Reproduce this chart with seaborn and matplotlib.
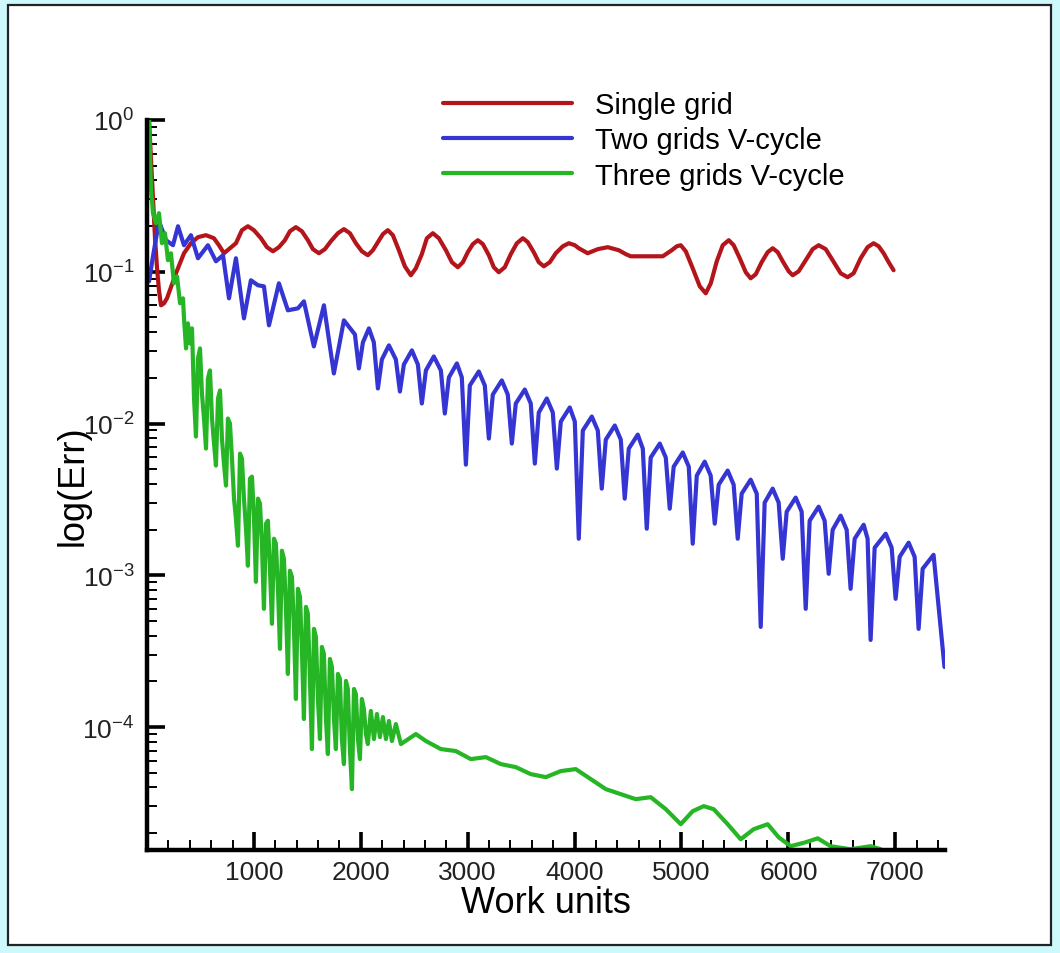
import numpy as np
import pandas as pd
import seaborn as sns
import matplotlib
matplotlib.use("Agg")
import matplotlib.pyplot as plt
from matplotlib.patches import Rectangle
from matplotlib.lines import Line2D
from matplotlib.ticker import LogLocator, FixedLocator, MultipleLocator, NullFormatter, FixedFormatter

# ---- convergence histories: work units vs log10 of the error ----
single_x = [19, 37, 56, 75, 94, 112, 131, 159, 187, 271, 346, 411, 477, 552, 626, 673, 720, 776,
            832, 888, 944, 1000, 1066, 1122, 1178, 1234, 1290, 1337, 1393, 1449, 1505, 1552, 1608,
            1664, 1720, 1786, 1842, 1898, 1954, 2010, 2066, 2113, 2160, 2207, 2253, 2300, 2356,
            2412, 2468, 2515, 2571, 2618, 2674, 2730, 2796, 2852, 2908, 2955, 3001, 3048, 3095,
            3142, 3198, 3244, 3291, 3347, 3403, 3460, 3516, 3562, 3618, 3665, 3712, 3768, 3824,
            3890, 3946, 4002, 4039, 4123, 4217, 4310, 4413, 4479, 4525, 4825, 4909, 4956, 4993,
            5040, 5105, 5171, 5227, 5274, 5330, 5386, 5442, 5488, 5545, 5601, 5647, 5694, 5750,
            5806, 5853, 5900, 5947, 6003, 6040, 6096, 6162, 6227, 6283, 6349, 6414, 6489, 6554,
            6610, 6676, 6741, 6797, 6844, 6891, 6938, 6984]
single_log = [0.0, -0.251, -0.515, -0.779, -0.977, -1.122, -1.221, -1.208, -1.175, -1.010, -0.878,
              -0.812, -0.772, -0.759, -0.779, -0.825, -0.878, -0.845, -0.812, -0.726, -0.700,
              -0.726, -0.779, -0.838, -0.865, -0.838, -0.792, -0.733, -0.706, -0.733, -0.792,
              -0.851, -0.878, -0.851, -0.799, -0.746, -0.719, -0.746, -0.812, -0.865, -0.891,
              -0.858, -0.805, -0.752, -0.726, -0.759, -0.858, -0.964, -1.023, -0.977, -0.884,
              -0.779, -0.746, -0.779, -0.858, -0.937, -0.970, -0.937, -0.871, -0.818, -0.792,
              -0.818, -0.891, -0.970, -1.003, -0.970, -0.884, -0.812, -0.779, -0.805, -0.871,
              -0.937, -0.964, -0.937, -0.878, -0.832, -0.812, -0.825, -0.845, -0.878, -0.851,
              -0.838, -0.858, -0.884, -0.898, -0.898, -0.858, -0.832, -0.825, -0.865, -0.977,
              -1.096, -1.142, -1.076, -0.931, -0.825, -0.792, -0.825, -0.911, -1.003, -1.043,
              -1.017, -0.937, -0.871, -0.845, -0.871, -0.931, -0.997, -1.023, -0.997, -0.924,
              -0.851, -0.825, -0.851, -0.924, -1.010, -1.036, -1.010, -0.911, -0.838, -0.812,
              -0.832, -0.878, -0.937, -0.990]

two_x = [19, 56, 112, 178, 243, 290, 346, 411, 477, 570, 645, 711, 767, 832, 907, 972, 1038, 1094,
         1141, 1234, 1318, 1412, 1468, 1561, 1655, 1748, 1842,
         1945, 1982, 2020, 2076, 2122, 2160, 2197, 2263, 2328, 2366, 2403, 2478,
         2534, 2571, 2609, 2683, 2749, 2786, 2824, 2899, 2945, 2983, 3020, 3104,
         3160, 3198, 3235, 3319, 3375, 3413, 3450, 3534, 3590, 3628, 3665, 3740,
         3796, 3834, 3871, 3955, 4002, 4039, 4077, 4161, 4217, 4254, 4292, 4376,
         4432, 4469, 4507, 4591, 4638, 4675, 4712, 4797, 4853, 4890, 4927, 5012,
         5068, 5105, 5143, 5217, 5273, 5311, 5348, 5432, 5488, 5526, 5563, 5647,
         5704, 5741, 5778, 5853, 5909, 5947, 5984, 6068, 6124, 6162, 6199, 6283,
         6339, 6377, 6414, 6489, 6545, 6582, 6620, 6704, 6741, 6769, 6807, 6910,
         6966, 7003, 7041, 7125, 7181, 7218, 7256, 7358, 7460]
two_log = [-1.063, -0.898, -0.667, -0.792, -0.825, -0.700, -0.825, -0.759, -0.911, -0.825, -0.931,
           -0.891, -1.175, -0.911, -1.307, -1.056, -1.089, -1.096, -1.353, -1.076, -1.254, -1.241,
           -1.195, -1.492, -1.221, -1.670, -1.320,
           -1.413, -1.637, -1.465, -1.373, -1.465, -1.769, -1.578, -1.485,
           -1.578, -1.789, -1.611, -1.518, -1.611, -1.868, -1.650, -1.558,
           -1.650, -1.934, -1.696, -1.604, -1.696, -2.271, -1.749, -1.657,
           -1.749, -2.099, -1.809, -1.716, -1.809, -2.132, -1.868, -1.776,
           -1.868, -2.264, -1.927, -1.835, -1.927, -2.297, -1.987, -1.894,
           -1.987, -2.759, -2.046, -1.954, -2.046, -2.429, -2.106, -2.013,
           -2.106, -2.495, -2.165, -2.073, -2.165, -2.693, -2.224, -2.132,
           -2.224, -2.561, -2.284, -2.191, -2.284, -2.792, -2.343, -2.251,
           -2.343, -2.660, -2.403, -2.310, -2.403, -2.759, -2.462, -2.370,
           -2.462, -3.340, -2.521, -2.429, -2.521, -2.891, -2.581, -2.488,
           -2.581, -3.221, -2.640, -2.548, -2.640, -2.990, -2.700, -2.607,
           -2.700, -3.089, -2.759, -2.667, -2.759, -3.426, -2.818, -2.726,
           -2.818, -3.155, -2.878, -2.785, -2.878, -3.353, -2.957, -2.865, -3.604]

three_x = [19, 37, 56, 84, 112, 140, 168, 196, 224, 252, 281, 309, 337,
           346, 365, 383, 402, 421, 440, 458, 477, 496, 514, 533, 552, 570, 589, 608, 627, 645,
           664, 683, 701, 720, 739, 757, 776, 795, 814, 832, 851, 870, 888, 907, 926, 944, 963,
           982, 1001, 1019, 1038, 1057, 1075, 1094, 1113, 1131, 1150, 1169, 1188, 1206, 1225,
           1244, 1262, 1281, 1300, 1318, 1337, 1356, 1375, 1393, 1412, 1431, 1449, 1468, 1487,
           1505, 1524, 1543, 1562, 1580, 1599, 1618, 1636, 1655, 1674, 1692, 1711, 1730, 1749,
           1767, 1786, 1805, 1823, 1842, 1861, 1879, 1898, 1917, 1936, 1954, 1973, 1992, 2010,
           2029, 2048, 2066, 2094, 2123, 2151, 2179, 2207, 2235, 2263, 2291, 2328, 2375,
           2515, 2609, 2749, 2889, 3029, 3170, 3310, 3450, 3590, 3731, 3871, 4011, 4151, 4292,
           4432, 4572, 4712, 4853, 4993, 5105, 5208, 5301, 5432, 5554, 5675, 5806, 5909, 6021,
           6162, 6274, 6395, 6582, 6769, 6863]
three_log = [0.0, -0.449, -0.614, -0.680, -0.614, -0.812, -0.746, -0.924, -0.878, -1.076, -1.030,
             -1.208, -1.175,
             -1.307, -1.505, -1.340, -1.472, -1.373, -1.835, -2.086, -1.571, -1.505, -1.802,
             -1.967, -2.165, -1.703, -1.650, -1.967, -2.132, -2.277, -1.835, -1.782, -2.099,
             -2.264, -2.409, -1.967, -2.000, -2.231, -2.495, -2.627, -2.805, -2.198, -2.231,
             -2.495, -2.693, -2.937, -2.363, -2.350, -2.627, -3.043, -2.495, -2.528, -2.792,
             -3.221, -2.660, -2.640, -2.957, -3.320, -2.759, -2.792, -3.089, -3.485, -2.838,
             -2.891, -3.221, -3.650, -2.970, -3.010, -3.353, -3.815, -3.089, -3.142, -3.485,
             -3.947, -3.208, -3.254, -3.683, -4.145, -3.353, -3.406, -3.815, -4.079, -3.472,
             -3.518, -3.947, -4.178, -3.551, -3.604, -3.947, -4.145, -3.650, -3.683, -4.079,
             -4.244, -3.696, -3.749, -4.145, -4.409, -3.749, -3.782, -4.079, -4.211, -3.815,
             -3.881, -4.046, -4.112,
             -3.894, -4.079, -3.914, -4.066, -3.934, -4.079, -3.960, -4.092, -3.980, -4.112,
             -4.046, -4.092, -4.145, -4.158, -4.211, -4.198, -4.244, -4.264, -4.310, -4.330,
             -4.290, -4.277, -4.343, -4.409, -4.442, -4.475, -4.462, -4.541, -4.640, -4.554,
             -4.521, -4.541, -4.640, -4.739, -4.673, -4.640, -4.726, -4.785, -4.759, -4.733,
             -4.785, -4.805, -4.785, -4.805]

series_names = ["Single grid", "Two grids V-cycle", "Three grids V-cycle"]
series_colors = ["#b3151a", "#3535d4", "#25b525"]
x_tick_values = [1000, 2000, 3000, 4000, 5000, 6000, 7000]
y_decades = [-4, -3, -2, -1, 0]

frames = []
for name, xs, ls in zip(series_names, [single_x, two_x, three_x],
                        [single_log, two_log, three_log]):
    frames.append(pd.DataFrame({"work": xs, "err": 10.0 ** np.asarray(ls), "series": name}))
data = pd.concat(frames, ignore_index=True)

sns.set_theme(style="white")
plt.rcParams["font.family"] = ["Liberation Sans", "DejaVu Sans"]
plt.rcParams["mathtext.fontset"] = "custom"
plt.rcParams["mathtext.rm"] = "Liberation Sans"
plt.rcParams["mathtext.it"] = "Liberation Sans:italic"
plt.rcParams["mathtext.bf"] = "Liberation Sans:bold"

W, H = 1060, 954
fig = plt.figure(figsize=(W / 100, H / 100), dpi=100, facecolor="#cdf8fc")
# white page with a thin dark frame, drawn beneath everything else
fig.patches.append(Rectangle((8 / W, 1 - 946 / H), (1051 - 8) / W, (946 - 6) / H,
                             transform=fig.transFigure, facecolor="white",
                             edgecolor="#222222", linewidth=1.6, zorder=-10))

ax = fig.add_axes([147 / W, 1 - 851 / H, (945 - 147) / W, (851 - 121) / H])
ax.set_facecolor("none")

sns.lineplot(data=data, x="work", y="err", hue="series", estimator=None, sort=False,
             palette=dict(zip(series_names, series_colors)), hue_order=series_names,
             linewidth=3.0, ax=ax, legend=False)
for line in ax.lines:
    line.set_solid_joinstyle("round")

ax.set_yscale("log")
ax.set_ylim(10 ** -4.81, 1.0)
ax.set_xlim(0, 7465)

ax.yaxis.set_major_locator(FixedLocator([10.0 ** d for d in y_decades]))
ax.yaxis.set_major_formatter(FixedFormatter([r"$10^{%d}$" % d for d in y_decades]))
ax.yaxis.set_minor_locator(LogLocator(base=10, subs=np.arange(2, 10), numticks=20))
ax.yaxis.set_minor_formatter(NullFormatter())
ax.xaxis.set_major_locator(FixedLocator(x_tick_values))
ax.xaxis.set_major_formatter(FixedFormatter([str(v) for v in x_tick_values]))
ax.xaxis.set_minor_locator(MultipleLocator(200))

for side in ["top", "right"]:
    ax.spines[side].set_visible(False)
for side in ["left", "bottom"]:
    ax.spines[side].set_linewidth(3.2)
    ax.spines[side].set_color("black")

ax.tick_params(which="both", bottom=True, left=True, top=False, right=False)
ax.tick_params(which="major", direction="in", length=13, width=2.6, color="black",
               labelsize=19, labelcolor="#222222", pad=7)
ax.tick_params(which="minor", direction="in", length=7, width=1.4, color="black")
ax.tick_params(axis="y", which="major", pad=9)

ax.set_xlabel("Work units", fontsize=26, color="black", labelpad=1)
ax.set_ylabel("log(Err)", fontsize=26, color="black")
ax.yaxis.set_label_coords((91 - 147) / (945 - 147), 0.5)

handles = [Line2D([], [], color=c, linewidth=3.0) for c in series_colors]
leg = fig.legend(handles, series_names, loc="upper left",
                 bbox_to_anchor=(443 / W, 1 - 92 / H), bbox_transform=fig.transFigure,
                 frameon=False, fontsize=21, handlelength=4.42, handletextpad=0.79,
                 labelspacing=0.25, borderpad=0, borderaxespad=0)
for t in leg.get_texts():
    t.set_color("black")

fig.savefig("out.png", dpi=100, facecolor=fig.get_facecolor())
